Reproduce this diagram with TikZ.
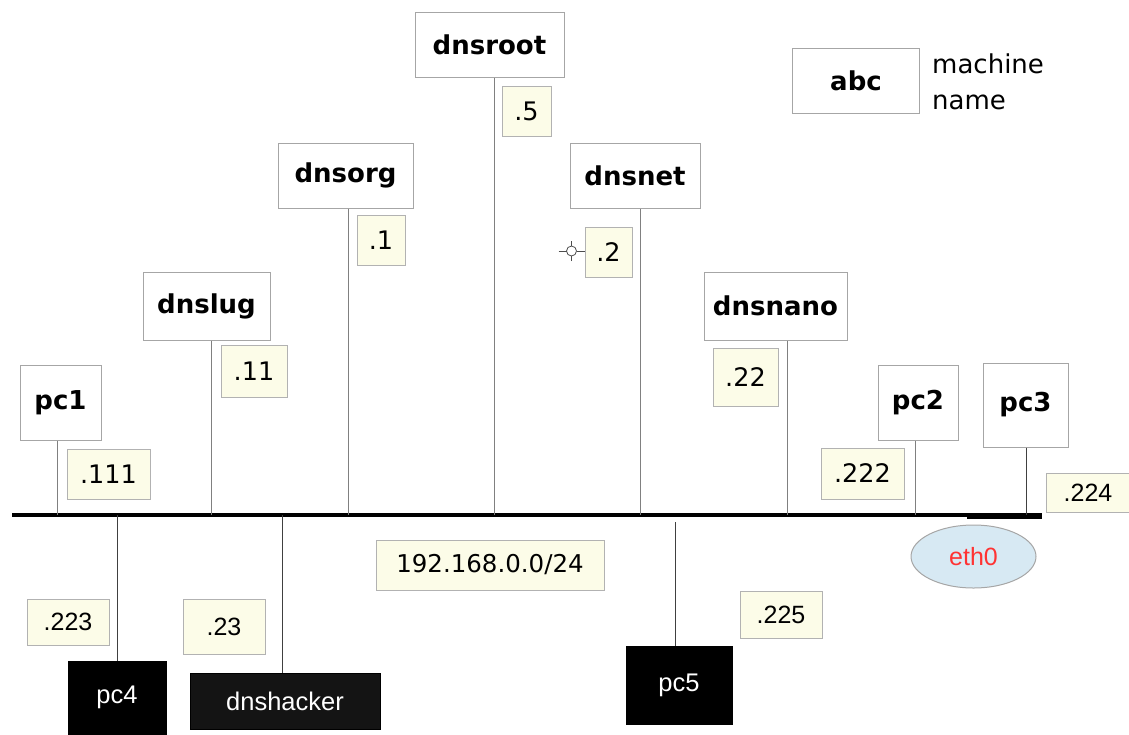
\documentclass[tikz,border=0pt]{standalone}
\usepackage{fontspec}
\setmainfont{DejaVu Sans}
\newfontfamily\arialf{Liberation Sans}
\usetikzlibrary{shapes.geometric}
\definecolor{addrfill}{HTML}{FCFCE8}
\definecolor{ethfill}{HTML}{D7E9F3}
\definecolor{ethred}{HTML}{FF3333}
\begin{document}
\begin{tikzpicture}[x=1pt,y=-1pt,
  mbox/.style={draw=black!35, line width=1pt, fill=white, inner sep=0pt,
    font=\fontsize{26}{30}\selectfont\bfseries},
  abox/.style={draw=black!30, line width=1pt, fill=addrfill, inner sep=0pt,
    font=\fontsize{25.5}{30}\selectfont},
  aboxa/.style={abox, font=\arialf\fontsize{25}{28}\selectfont},
  bbox/.style={draw=black, fill=black, text=white, inner sep=0pt,
    font=\arialf\fontsize{25.5}{28}\selectfont},
  link/.style={draw=black!50, line width=1pt},
  linkb/.style={draw=black!75, line width=1pt},
  bus/.style={draw=black, line width=3.5pt}
]
\useasboundingbox (0,0) rectangle (1129,734);
% bus
\coordinate (busL) at (12,515);
\coordinate (busR) at (1040,515);
\coordinate (ethL) at (967,516);
\coordinate (ethR) at (1042,516);
\draw[bus] (busL) -- (busR);
\draw[draw=black, line width=6pt] (ethL) -- (ethR);

% machine boxes
\node[mbox, minimum width=81pt, minimum height=75pt] (pc1) at (60.5,402.5) {pc1};
\node[mbox, minimum width=127pt, minimum height=68pt] (dnslug) at (206.5,306) {dnslug};
\node[mbox, minimum width=135pt, minimum height=65pt] (dnsorg) at (345.5,175.5) {dnsorg};
\node[mbox, minimum width=149pt, minimum height=65pt] (dnsroot) at (489.5,44.5) {dnsroot};
\node[mbox, minimum width=130pt, minimum height=65pt] (dnsnet) at (635,175.5) {dnsnet};
\node[mbox, minimum width=143pt, minimum height=68pt] (dnsnano) at (775.5,306) {dnsnano};
\node[mbox, minimum width=80pt, minimum height=75pt] (pc2) at (918,402.5) {pc2};
\node[mbox, minimum width=85pt, minimum height=84pt] (pc3) at (1025.5,405) {pc3};
\node[mbox, minimum width=127pt, minimum height=65pt] (abc) at (856,80.5) {abc};
\node[anchor=west, align=left, inner sep=0pt, font=\fontsize{26}{36}\selectfont] (legend) at (932,82) {machine\\name};

% connectors from machines to bus
\draw[link] (57,0 |- pc1.south) -- (57,0 |- busL);
\draw[link] (211,0 |- dnslug.south) -- (211,0 |- busL);
\draw[link] (348,0 |- dnsorg.south) -- (348,0 |- busL);
\draw[link] (494,0 |- dnsroot.south) -- (494,0 |- busL);
\draw[link] (640,0 |- dnsnet.south) -- (640,0 |- busL);
\draw[link] (787,0 |- dnsnano.south) -- (787,0 |- busL);
\draw[link] (915,0 |- pc2.south) -- (915,0 |- busL);
\draw[linkb] (1026,0 |- pc3.south) -- (1026,0 |- busL);

% address boxes
\node[abox, minimum width=83pt, minimum height=50pt] (a111) at (108.5,474) {.111};
\node[abox, minimum width=66pt, minimum height=52pt] (a11) at (254,371) {.11};
\node[abox, minimum width=48pt, minimum height=50pt] (a1) at (381,240) {.1};
\node[abox, minimum width=49pt, minimum height=50pt] (a5) at (526.5,111) {.5};
\node[abox, minimum width=47pt, minimum height=50pt] (a2) at (608.5,252) {.2};
\node[abox, minimum width=65pt, minimum height=58pt] (a22) at (745.5,377) {.22};
\node[abox, minimum width=83pt, minimum height=51pt] (a222) at (862.5,473.5) {.222};
\node[aboxa, minimum width=84pt, minimum height=39pt] (a224) at (1088,492.5) {.224};
\node[aboxa, minimum width=82pt, minimum height=46pt] (a223) at (68,622) {.223};
\node[aboxa, minimum width=82pt, minimum height=55pt] (a23) at (224,626.5) {.23};
\node[aboxa, minimum width=82pt, minimum height=47pt] (a225) at (781,614.5) {.225};
\node[abox, minimum width=228pt, minimum height=50pt, font=\fontsize{24.5}{30}\selectfont] (net) at (490,565) {192.168.0.0/24};

% crosshair marker
\coordinate (ch) at (571.5,251);
\draw[black!70, line width=0.8pt] (ch) circle (5);
\draw[black!70, line width=0.8pt] ([xshift=-13]ch) -- ([xshift=-5]ch) ([xshift=5]ch) -- ([xshift=13]ch)
  ([yshift=-10]ch) -- ([yshift=-5]ch) ([yshift=5]ch) -- ([yshift=10]ch);

% eth0
\node[ellipse, draw=black!35, line width=1pt, fill=ethfill, minimum width=125pt, minimum height=63pt, inner sep=0pt, text=ethred, font=\arialf\fontsize{25}{28}\selectfont] (eth0) at (973.5,556.5) {eth0};

% hosts below
\node[bbox, minimum width=98pt, minimum height=73pt] (pc4) at (117,697.5) {pc4};
\node[bbox, fill=black!92, minimum width=190pt, minimum height=56pt] (dnshacker) at (285,701) {dnshacker};
\node[bbox, minimum width=106pt, minimum height=78pt] (pc5) at (679,685) {pc5};
\coordinate (pc5top) at (675,522);
\draw[linkb] (pc4.north) -- (pc4.north |- busL);
\draw[linkb] (282,0 |- dnshacker.north) -- (282,0 |- busL);
\draw[linkb] (675,0 |- pc5.north) -- (pc5top);
\end{tikzpicture}
\end{document}
